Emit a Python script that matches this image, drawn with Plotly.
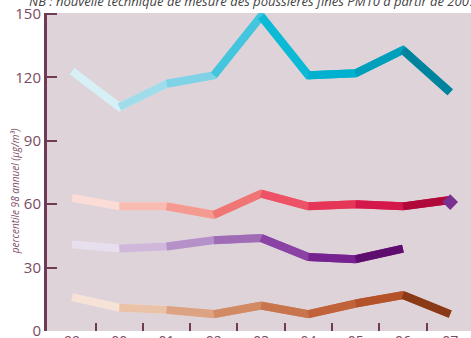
import plotly.graph_objects as go

years = ["99", "00", "01", "02", "03", "04", "05", "06", "07"]

pm_high = [123, 106, 117, 121, 149, 121, 122, 133, 113]
pm_mid = [63, 59, 59, 55, 65, 59, 60, 59, 62]
pm_low = [41, 39, 40, 43, 44, 35, 34, 39]
pm_base = [16, 11, 10, 8, 12, 8, 13, 17, 8]
marker_value = [61]

# colour ramp per series, one colour per segment (light -> dark)
ramp_high = ["#d6f0f6", "#a0dcea", "#80d3e6", "#44c5de", "#0cbad6", "#00b0cf", "#009fbc", "#00849e"]
ramp_mid = ["#fcdcd6", "#f8bcb2", "#f49a90", "#f07676", "#ee5266", "#e63658", "#d4184a", "#b00838"]
ramp_low = ["#e8dfee", "#cfb8da", "#b690c8", "#a06cb6", "#8a42a4", "#762290", "#5e0c6e"]
ramp_base = ["#f6e2d6", "#eac2a8", "#dca282", "#d28a64", "#c8744c", "#c0623a", "#b4522a", "#8a3a16"]

x_idx = list(range(len(years)))

fig = go.Figure()


def add_series(values, colours):
    n = len(values)
    xs = x_idx[:n]
    # each trace spans two segments so the joins stay clean; later traces overlay
    for k in range(n - 1):
        end = min(k + 3, n)
        fig.add_trace(go.Scatter(
            x=xs[k:end], y=values[k:end], mode="lines",
            line=dict(color=colours[k], width=8),
            hoverinfo="skip", showlegend=False, cliponaxis=False,
        ))


add_series(pm_high, ramp_high)
add_series(pm_mid, ramp_mid)
add_series(pm_low, ramp_low)
add_series(pm_base, ramp_base)

fig.add_trace(go.Scatter(
    x=[x_idx[-1]], y=marker_value, mode="markers",
    marker=dict(symbol="diamond", size=12, color="#7a3090"),
    hoverinfo="skip", showlegend=False,
))

axis_col = "#6e3a55"
label_col = "#7b4a62"

fig.update_layout(
    width=471, height=338,
    margin=dict(l=47, r=0, t=13, b=7),
    paper_bgcolor="white",
    plot_bgcolor="#ddd3d8",
    font=dict(family="Open Sans", color=label_col),
    xaxis=dict(
        range=[-0.53, 8.44], automargin=False, ticklabeloverflow="allow",
        tickmode="array", tickvals=x_idx, ticktext=years,
        ticks="", showgrid=False, zeroline=False, showline=False,
        tickfont=dict(size=14, color=label_col),
        minor=dict(tickvals=[i + 0.5 for i in x_idx[:-1]], ticks="inside",
                   ticklen=8, tickwidth=2, tickcolor=axis_col, showgrid=False),
    ),
    yaxis=dict(
        range=[0, 150.5], automargin=False, ticklabeloverflow="allow",
        tickvals=[0, 30, 60, 90, 120, 150],
        ticks="inside", ticklen=10, tickwidth=2, tickcolor=axis_col,
        showline=True, linewidth=3, linecolor=axis_col,
        showgrid=False, zeroline=False,
        tickfont=dict(size=15, color=label_col),
    ),
    annotations=[
        dict(text="<i>NB : nouvelle technique de mesure des poussières fines PM10 à partir de 2007</i>",
             xref="paper", yref="paper", x=0.485, y=1.038, xanchor="center", yanchor="middle",
             showarrow=False, font=dict(size=13, color="#444444", family="Open Sans")),
        dict(text="<i>percentile 98 annuel (µg/m³)</i>",
             xref="paper", yref="paper", x=-0.075, y=0.44, xanchor="center", yanchor="middle",
             showarrow=False, textangle=-90,
             font=dict(size=10, color=label_col, family="Open Sans")),
    ],
)

fig.write_html("out.html")
